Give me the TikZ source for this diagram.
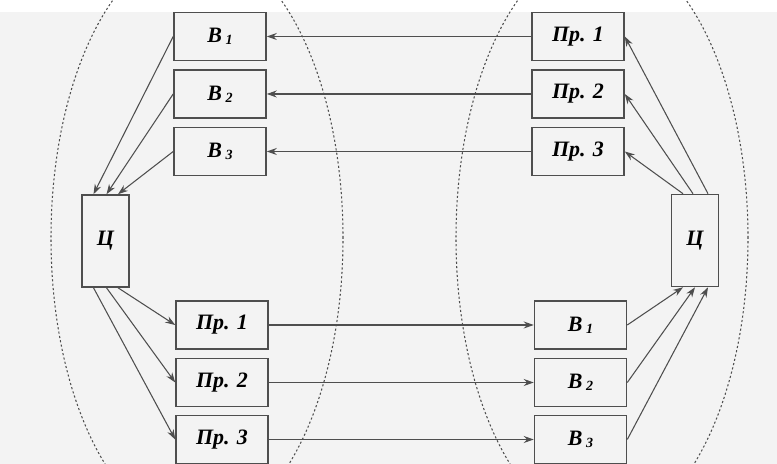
\documentclass[tikz,border=0pt]{standalone}
\usepackage{fontspec}
\setmainfont{Liberation Serif}
\usetikzlibrary{arrows.meta,calc}
\usepackage{xcolor}
\definecolor{inkgray}{RGB}{78,78,78}
\definecolor{paper}{RGB}{243,243,243}

\newcommand{\idx}[1]{\,\raisebox{-1pt}{\fontsize{8}{8}\selectfont #1}}

\begin{document}
\begin{tikzpicture}[blok/.style={draw=inkgray, line width=0.9pt, minimum width=1.84cm, minimum height=0.96cm, inner sep=0pt, font=\bfseries\itshape\fontsize{12.5}{12.5}\selectfont}, centr/.style={blok, minimum width=0.94cm, minimum height=1.84cm}, link/.style={draw=inkgray, line width=0.6pt, ->}, oval/.style={draw=inkgray, line width=0.6pt, dash pattern=on 1.2pt off 1.3pt}, >={Stealth[length=2mm,width=1.4mm]}]
\useasboundingbox (0,0) rectangle (15.54,9.28);
\fill[paper] (0,0) rectangle (15.54,9.04);
% dotted ovals, cut by the page
\begin{scope}
\clip (0,0) rectangle (15.54,9.28);
\draw[oval] (3.94,4.52) ellipse (2.92 and 5.82);
\draw[oval] (12.04,4.52) ellipse (2.92 and 5.82);
\end{scope}
% left group
\node[blok] (v1) at (4.40,8.55) {В\idx{1}};
\node[blok] (v2) at (4.40,7.40) {В\idx{2}};
\node[blok] (v3) at (4.40,6.25) {В\idx{3}};
\node[centr] (cl) at (2.11,4.46) {Ц};
\node[blok] (p1) at (4.44,2.78) {Пр. 1};
\node[blok] (p2) at (4.44,1.63) {Пр. 2};
\node[blok] (p3) at (4.44,0.49) {Пр. 3};
% right group
\node[blok] (q1) at (11.56,8.55) {Пр. 1};
\node[blok] (q2) at (11.56,7.40) {Пр. 2};
\node[blok] (q3) at (11.56,6.25) {Пр. 3};
\node[centr] (cr) at (13.90,4.47) {Ц};
\node[blok] (w1) at (11.61,2.78) {В\idx{1}};
\node[blok] (w2) at (11.61,1.63) {В\idx{2}};
\node[blok] (w3) at (11.61,0.49) {В\idx{3}};
% links inside the groups
\draw[link] (v1.west) -- ($(cl.north)+(-0.24,0)$);
\draw[link] (v2.west) -- ($(cl.north)+(0.02,0)$);
\draw[link] (v3.west) -- ($(cl.north)+(0.25,0)$);
\draw[link] ($(cl.south)+(-0.24,0)$) -- (p3.west);
\draw[link] ($(cl.south)+(0.02,0)$) -- (p2.west);
\draw[link] ($(cl.south)+(0.25,0)$) -- (p1.west);
\draw[link] ($(cr.north)+(0.26,0)$) -- (q1.east);
\draw[link] ($(cr.north)+(-0.04,0)$) -- (q2.east);
\draw[link] ($(cr.north)+(-0.24,0)$) -- (q3.east);
\draw[link] (w1.east) -- ($(cr.south)+(-0.24,0)$);
\draw[link] (w2.east) -- ($(cr.south)+(0.00,0)$);
\draw[link] (w3.east) -- ($(cr.south)+(0.26,0)$);
% links between the groups
\foreach \i in {1,2,3} {
  \draw[link] (q\i.west) -- (v\i.east);
  \draw[link] (p\i.east) -- (w\i.west);
}
\end{tikzpicture}
\end{document}
